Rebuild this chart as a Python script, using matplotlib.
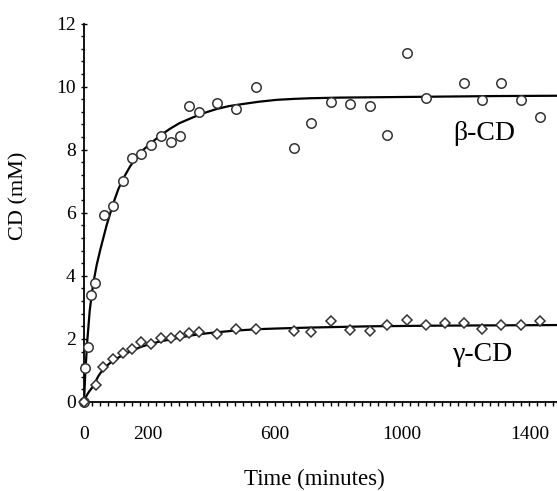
import numpy as np
import matplotlib
matplotlib.use("Agg")
import matplotlib.pyplot as plt
from matplotlib.ticker import MultipleLocator, FixedLocator

plt.rcParams['font.family'] = ['Liberation Serif', 'DejaVu Serif']

# beta-CD measurements (minutes, mM)
beta_t = [0, 3, 13, 22, 35, 64, 92, 124, 150, 179, 210, 241, 273, 302, 331, 363,
          418, 479, 540, 661, 714, 777, 837, 898, 954, 1015, 1075, 1196, 1252,
          1312, 1373, 1434]
beta_c = [0.0, 1.07, 1.73, 3.39, 3.76, 5.92, 6.21, 7.0, 7.72, 7.85, 8.16, 8.43,
          8.24, 8.43, 9.37, 9.19, 9.47, 9.29, 9.98, 8.05, 8.85, 9.50, 9.45, 9.37,
          8.47, 11.07, 9.63, 10.12, 9.59, 10.12, 9.59, 9.04]

# gamma-CD measurements
gamma_t = [0, 38, 61, 92, 124, 150, 179, 210, 241, 273, 302, 331, 363, 418, 479,
           540, 661, 714, 777, 837, 898, 954, 1015, 1075, 1135, 1196, 1252, 1312,
           1373, 1434]
gamma_c = [0.0, 0.54, 1.10, 1.36, 1.56, 1.68, 1.89, 1.83, 2.02, 2.02, 2.10, 2.19,
           2.21, 2.15, 2.33, 2.33, 2.25, 2.22, 2.56, 2.28, 2.25, 2.44, 2.59, 2.44,
           2.51, 2.51, 2.33, 2.44, 2.44, 2.56]

# fitted curves
beta_fit_t = [0, 4, 10, 18, 29, 40, 52, 71, 92, 108, 124, 145, 166, 187, 208,
              240, 270, 300, 344, 380, 417, 455, 501, 550, 606, 660, 711, 800,
              900, 1100, 1300, 1500]
beta_fit_c = [0.0, 0.9, 1.9, 2.9, 3.76, 4.35, 4.86, 5.6, 6.3, 6.75, 7.1, 7.47,
              7.78, 8.0, 8.19, 8.45, 8.66, 8.84, 9.03, 9.17, 9.29, 9.38, 9.45,
              9.52, 9.58, 9.61, 9.63, 9.65, 9.66, 9.68, 9.70, 9.71]
gamma_fit_t = [0, 8, 16, 29, 45, 61, 80, 103, 130, 155, 180, 208, 240, 270, 310,
               344, 380, 417, 460, 501, 550, 606, 711, 900, 1100, 1300, 1500]
gamma_fit_c = [0.0, 0.2, 0.33, 0.5, 0.82, 1.05, 1.22, 1.38, 1.53, 1.65, 1.75, 1.84,
               1.92, 1.98, 2.06, 2.12, 2.17, 2.21, 2.25, 2.28, 2.31, 2.33, 2.36,
               2.40, 2.42, 2.43, 2.44]

xtick_vals = [0, 200, 600, 1000, 1400]
ytick_vals = [0, 2, 4, 6, 8, 10, 12]

fig = plt.figure(figsize=(5.57, 4.91), dpi=100)
ax = fig.add_axes([84 / 557, 1 - 402 / 491, 1 - 84 / 557, (402 - 23.5) / 491])

ax.plot(beta_fit_t, beta_fit_c, color='black', lw=1.6, zorder=2)
ax.plot(gamma_fit_t, gamma_fit_c, color='black', lw=1.6, zorder=2)
ax.plot(beta_t, beta_c, 'o', ms=6.8, mfc='white', mec='#333333', mew=1.1,
        zorder=3, clip_on=False)
ax.plot(gamma_t, gamma_c, 'D', ms=5.4, mfc='white', mec='#333333', mew=1.1,
        zorder=3, clip_on=False)

ax.text(1258, 8.5, 'β-CD', fontsize=20, ha='center', va='center')
ax.text(1255, 1.5, 'γ-CD', fontsize=20, ha='center', va='center')

ax.set_xlim(0, 1487)
ax.set_ylim(0, 12)
ax.xaxis.set_major_locator(FixedLocator(xtick_vals))
ax.xaxis.set_minor_locator(MultipleLocator(25))
ax.yaxis.set_major_locator(FixedLocator(ytick_vals))
ax.yaxis.set_minor_locator(MultipleLocator(0.4))

for s in ['top', 'right']:
    ax.spines[s].set_visible(False)
for s in ['left', 'bottom']:
    ax.spines[s].set_linewidth(1.3)

ax.tick_params(axis='y', which='major', direction='inout', length=4, width=1,
               labelsize=14, pad=4)
ax.tick_params(axis='y', which='minor', direction='out', length=2.4, width=1)
ax.tick_params(axis='x', which='major', direction='out', length=3, width=1,
               labelsize=14, pad=14)
ax.tick_params(axis='x', which='minor', direction='out', length=3, width=1)

fig.text(314 / 557, 1 - 479 / 491, 'Time (minutes)', fontsize=16.5,
         ha='center', va='center')
fig.text(19 / 557, 1 - 196 / 491, 'CD (mM)', fontsize=16, rotation=90,
         ha='center', va='center')

fig.savefig('out.png', dpi=100)
